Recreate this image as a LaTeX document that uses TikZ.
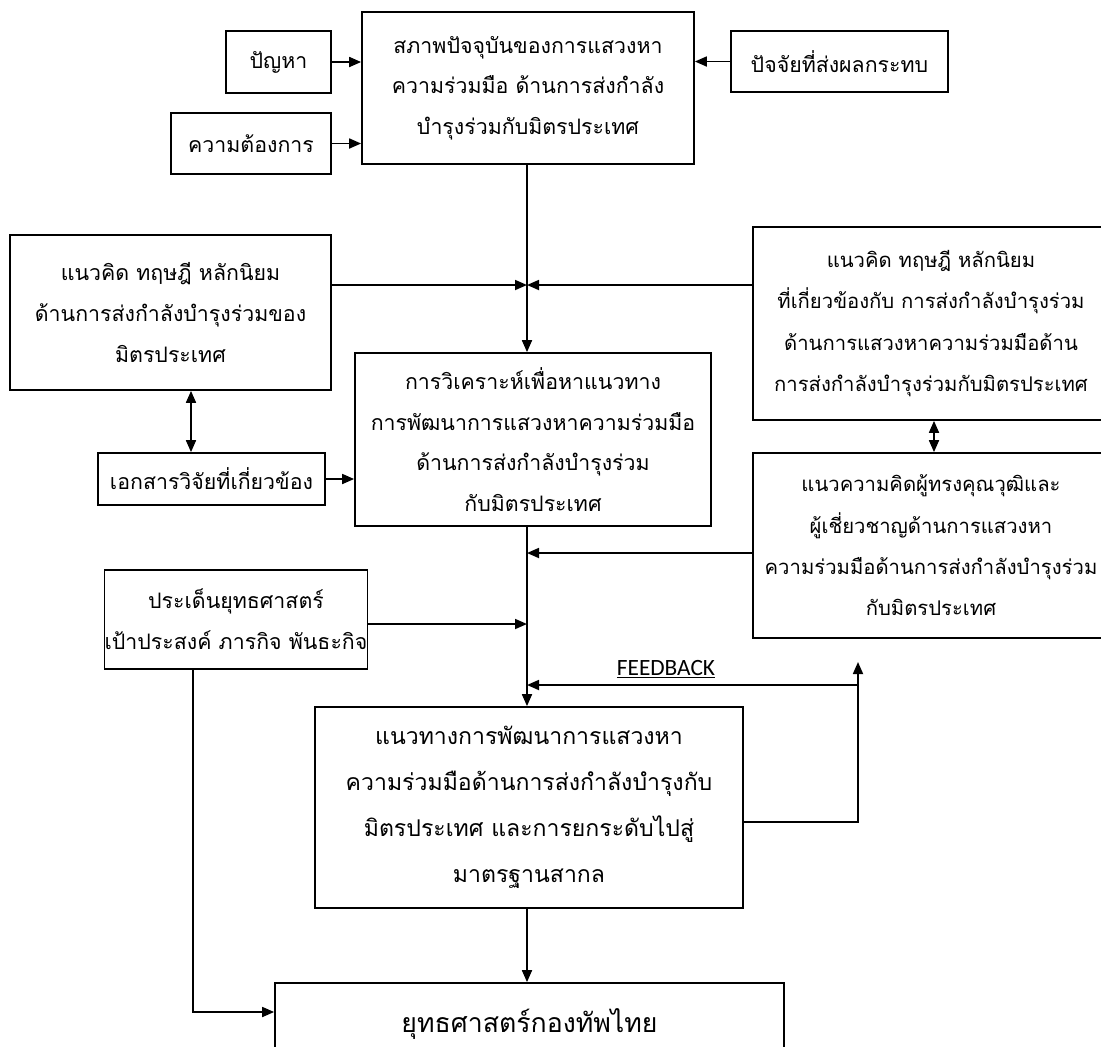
\documentclass[tikz,border=0pt]{standalone}
\usepackage{fontspec}
\setmainfont[Script=Thai]{Loma}
\newfontfamily\fbfont{Carlito}
\usetikzlibrary{arrows.meta}

\tikzset{
	box/.style={shape=rectangle, draw=black, line width=1.3pt, align=center, inner sep=0pt, font=\fontsize{16}{30.5}\selectfont},
	sidebox/.style={box, font=\fontsize{15.2}{31}\selectfont},
	bigbox/.style={box, font=\fontsize{17.3}{34.5}\selectfont},
	arr/.style={-{Triangle[length=9pt,width=7.5pt]}, line width=1.3pt},
	dbl/.style={{Triangle[length=9pt,width=7.5pt]}-{Triangle[length=9pt,width=7.5pt]}, line width=1.3pt},
}

\begin{document}
\begin{tikzpicture}[x=0.75pt, y=-0.75pt]
	\useasboundingbox (0, 0) rectangle (1101, 1047);
	\clip (0, 0) rectangle (1101, 1047);
	
	\node[box, minimum width=249pt, minimum height=114pt] (s) at (528, 88) {สภาพปัจจุบันของการแสวงหา\\ความร่วมมือ ด้านการส่งกำลัง\\บำรุงร่วมกับมิตรประเทศ};
	\node[box, minimum width=78.75pt, minimum height=46.5pt] (pb) at (278.5, 62) {ปัญหา};
	\node[box, minimum width=120pt, minimum height=45.75pt] (nd) at (251, 143.5) {ความต้องการ};
	\node[box, minimum width=162.75pt, minimum height=45.75pt] (fc) at (839.5, 61.5) {ปัจจัยที่ส่งผลกระทบ};
	
	\node[box, minimum width=240.75pt, minimum height=116.25pt] (lc) at (170.5, 312.5) {แนวคิด ทฤษฎี หลักนิยม\\ด้านการส่งกำลังบำรุงร่วมของ\\มิตรประเทศ};
	\node[sidebox, minimum width=267pt, minimum height=144.75pt] (rc) at (931, 323.5) {แนวคิด ทฤษฎี หลักนิยม\\ที่เกี่ยวข้องกับ การส่งกำลังบำรุงร่วม\\ด้านการแสวงหาความร่วมมือด้าน\\การส่งกำลังบำรุงร่วมกับมิตรประเทศ};
	\node[box, minimum width=170.25pt, minimum height=39pt] (dc) at (211.5, 479) {เอกสารวิจัยที่เกี่ยวข้อง};
	\node[box, minimum width=267pt, minimum height=129.75pt] (an) at (533, 439.5) {การวิเคราะห์เพื่อหาแนวทาง\\การพัฒนาการแสวงหาความร่วมมือ\\ด้านการส่งกำลังบำรุงร่วม\\กับมิตรประเทศ};
	\node[sidebox, minimum width=267pt, minimum height=138.75pt] (ex) at (931, 545.5) {แนวความคิดผู้ทรงคุณวุฒิและ\\ผู้เชี่ยวชาญด้านการแสวงหา\\ความร่วมมือด้านการส่งกำลังบำรุงร่วม\\กับมิตรประเทศ};
	\node[box, minimum width=163.5pt, minimum height=74.25pt] (sg) at (236, 619.5) {ประเด็นยุทธศาสตร์\\เป้าประสงค์ ภารกิจ พันธะกิจ};
	\node[bigbox, minimum width=321pt, minimum height=150.75pt] (gd) at (529, 807.5) {แนวทางการพัฒนาการแสวงหา\\ความร่วมมือด้านการส่งกำลังบำรุงกับ\\มิตรประเทศ และการยกระดับไปสู่\\มาตรฐานสากล};
	\node[box, minimum width=381.75pt, minimum height=61.5pt, font=\fontsize{20}{30}\selectfont] (fn) at (529.5, 1024) {ยุทธศาสตร์กองทัพไทย};
	
	\coordinate (j1) at (527, 285);
	\coordinate (j2) at (527, 553);
	\coordinate (j3) at (527, 624);
	\coordinate (j4) at (527, 685);
	\coordinate (f1) at (858, 822);
	\coordinate (f2) at (858, 662);
	\coordinate (f3) at (858, 685);
	\coordinate (l1) at (193, 1012);
	\coordinate (d1) at (191, 0);
	\coordinate (d2) at (934, 0);
	
	\draw[arr] (pb.east) -- (s.west |- pb.east);
	\draw[arr] (nd.east) -- (s.west |- nd.east);
	\draw[arr] (fc.west) -- (s.east |- fc.west);
	
	\draw[arr] (s.south -| j1) -- (j1 |- an.north);
	\draw[arr] (lc.east |- j1) -- (j1);
	\draw[arr] (rc.west |- j1) -- (j1);
	\draw[dbl] (lc.south -| d1) -- (dc.north -| d1);
	\draw[dbl] (rc.south -| d2) -- (ex.north -| d2);
	\draw[arr] (dc.east) -- (an.west |- dc.east);
	
	\draw[arr] (an.south -| j1) -- (j1 |- gd.north);
	\draw[arr] (ex.west |- j2) -- (j2);
	\draw[arr] (sg.east |- j3) -- (j3);
	
	%feedback
	\draw[arr] (gd.east |- f1) -- (f1) -- (f2);
	\draw[arr] (f3) -- (j4) node[pos=0.58, above=1pt, font=\fbfont\fontsize{17.5}{19}\selectfont] {\underline{FEEDBACK}};
	
	\draw[arr] (gd.south -| j1) -- (j1 |- fn.north);
	\draw[arr] (sg.south -| l1) -- (l1) -- (fn.west |- l1);
	
\end{tikzpicture}
\end{document}
